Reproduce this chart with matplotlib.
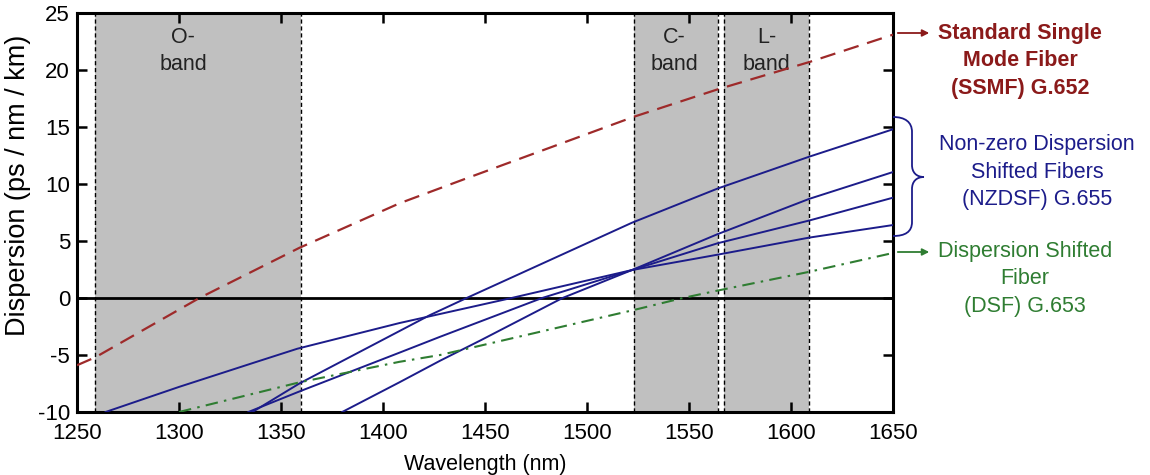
import matplotlib
matplotlib.use("Agg")
import matplotlib.pyplot as plt
from matplotlib.path import Path
from matplotlib.patches import PathPatch

plt.rcParams['font.family'] = ['Liberation Sans', 'DejaVu Sans']
plt.rcParams['axes.unicode_minus'] = False

# values
ssmf_wl = [1250, 1259, 1310, 1359, 1408, 1441, 1523, 1564, 1609, 1650]
ssmf_d = [-5.9, -5.2, 0.0, 4.4, 8.3, 10.5, 15.9, 18.3, 20.7, 23.1]

nz_a_wl = [1336, 1359, 1423, 1441, 1522, 1564, 1609, 1650]
nz_a_d = [-10, -7.5, -1.5, 0.0, 6.6, 9.6, 12.4, 14.8]

nz_b_wl = [1380, 1408, 1428, 1448, 1488, 1522, 1564, 1609, 1650]
nz_b_d = [-10, -7.4, -5.5, -3.7, 0.0, 2.45, 5.6, 8.7, 11.05]

nz_c_wl = [1334, 1359, 1408, 1428, 1478, 1522, 1564, 1609, 1650]
nz_c_d = [-10, -8.2, -4.8, -3.4, 0.0, 2.45, 4.8, 6.8, 8.8]

nz_d_wl = [1264, 1300, 1338, 1358, 1408, 1423, 1463, 1522, 1564, 1609, 1650]
nz_d_d = [-10, -7.8, -5.6, -4.45, -2.2, -1.6, 0.0, 2.45, 3.8, 5.3, 6.4]

dsf_wl = [1300, 1359, 1408, 1428, 1523, 1547, 1564, 1609, 1650]
dsf_d = [-10, -7.4, -5.6, -5.0, -1.05, 0.0, 0.65, 2.3, 3.95]

bands = [("O-\nband", 1259, 1360, 1302),
         ("C-\nband", 1523, 1564, 1543),
         ("L-\nband", 1567, 1609, 1588)]

red = '#9e2a2a'
red_txt = '#8b1a1a'
blue = '#1c1c8a'
green = '#2f7d32'

W, H = 1150, 475
fig = plt.figure(figsize=(W / 100, H / 100), dpi=100)
ax = fig.add_axes([77 / W, 63 / H, 816 / W, 399 / H])

for label, x0, x1, xc in bands:
    ax.axvspan(x0, x1, color='#c0c0c0', lw=0, zorder=0)
    for xe in (x0, x1):
        ax.axvline(xe, color='black', lw=1.0, dashes=(3, 2), zorder=1)
    ax.text(xc, 21.7, label, ha='center', va='center', fontsize=15.5,
            color='#222222', linespacing=1.38)

ax.axhline(0, color='black', lw=2, zorder=2)

ax.plot(ssmf_wl, ssmf_d, color=red, lw=1.6, dashes=(7, 4), zorder=3)
for wl, d in [(nz_a_wl, nz_a_d), (nz_b_wl, nz_b_d), (nz_c_wl, nz_c_d), (nz_d_wl, nz_d_d)]:
    ax.plot(wl, d, color=blue, lw=1.4, zorder=3)
ax.plot(dsf_wl, dsf_d, color=green, lw=1.5, dashes=(6, 3, 1.2, 3), zorder=3)

ax.set_xlim(1250, 1650)
ax.set_ylim(-10, 25)
ax.set_xticks(range(1250, 1651, 50))
ax.set_yticks(range(-10, 26, 5))
ax.tick_params(direction='in', length=7, width=1.8, top=True, right=True,
               labelsize=16)
ax.tick_params(axis='x', pad=8)
ax.tick_params(axis='y', pad=5)
for s in ax.spines.values():
    s.set_linewidth(2.2)
ax.set_xlabel("Wavelength (nm)", fontsize=15.5, labelpad=7)
ax.set_ylabel("Dispersion (ps / nm / km)", fontsize=19.5)
ax.yaxis.set_label_coords(-0.056, 0.569)


def fp(x, y):
    # figure pixel (from top-left) to figure fraction
    return (x / W, 1 - y / H)


fig.text(*fp(1020, 61), "Standard Single\nMode Fiber\n(SSMF) G.652", ha='center',
         va='center', fontsize=15.5, fontweight='bold', color=red_txt, linespacing=1.42)
fig.text(*fp(1037, 172), "Non-zero Dispersion\nShifted Fibers\n(NZDSF) G.655", ha='center',
         va='center', fontsize=15.5, color=blue, linespacing=1.42)
fig.text(*fp(1025, 279), "Dispersion Shifted\nFiber\n(DSF) G.653", ha='center',
         va='center', fontsize=15.5, color=green, linespacing=1.42)

for y, c in [(33, red_txt), (252, green)]:
    fig.add_artist(matplotlib.patches.FancyArrowPatch(
        fp(895, y), fp(932, y), transform=fig.transFigure, arrowstyle='-|>',
        mutation_scale=10, color=c, lw=1.3))

brace = [(893, 117), (905, 117), (912, 122), (912, 132), (912, 165),
         (912, 172), (916, 177), (924, 177), (916, 177), (912, 182), (912, 189),
         (912, 222), (912, 232), (905, 236), (893, 236)]
codes = [Path.MOVETO, Path.CURVE4, Path.CURVE4, Path.CURVE4, Path.LINETO,
         Path.CURVE4, Path.CURVE4, Path.CURVE4, Path.CURVE4, Path.CURVE4, Path.CURVE4,
         Path.LINETO, Path.CURVE4, Path.CURVE4, Path.CURVE4]
fig.add_artist(PathPatch(Path([fp(x, y) for x, y in brace], codes),
                         transform=fig.transFigure, fill=False, edgecolor=blue, lw=1.3))

fig.savefig("out.png", dpi=100)
